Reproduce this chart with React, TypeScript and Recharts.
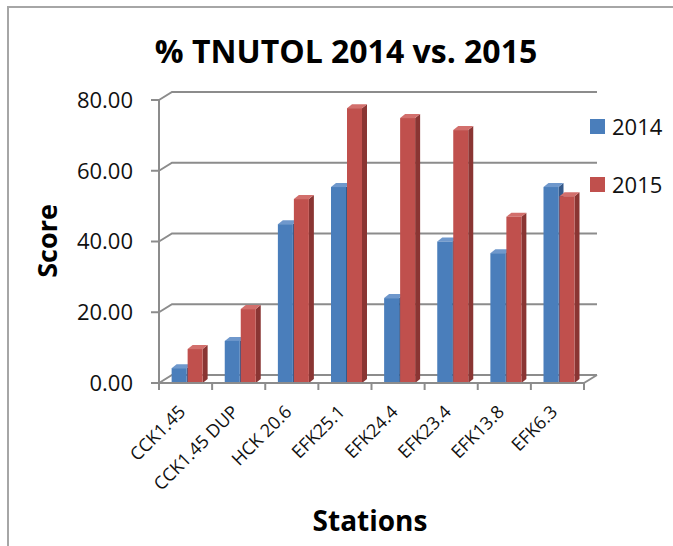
import { BarChart, Bar, XAxis, YAxis, CartesianGrid } from 'recharts';

const stations = ['CCK1.45', 'CCK1.45 DUP', 'HCK 20.6', 'EFK25.1', 'EFK24.4', 'EFK23.4', 'EFK13.8', 'EFK6.3'];
const score2014 = [4.2, 11.9, 44.9, 55.4, 24.0, 40.0, 36.7, 55.4];
const score2015 = [9.6, 20.9, 52.0, 77.7, 74.9, 71.5, 47.0, 52.8];
const yTicks = [0, 20, 40, 60, 80];
const seriesNames = ['2014', '2015'];

const data = stations.map((station, i) => ({ station, y2014: score2014[i], y2015: score2015[i] }));

const W = 673;
const H = 546;
const X_AXIS_H = 30;
const MARGIN = { top: 100, right: 89, bottom: 163 - X_AXIS_H, left: 10 };
const Y_AXIS_W = 149;
const PLOT_LEFT = MARGIN.left + Y_AXIS_W;
const BAND = (W - PLOT_LEFT - MARGIN.right) / stations.length;
const DEPTH_X = 13;
const DEPTH_Y = 8;
const GRID = '#8c8c8c';
const FONT = '"Open Sans", "DejaVu Sans", sans-serif';

const COLORS = {
  y2014: { front: '#4a7ebb', side: '#34598a', top: '#6f98cc' },
  y2015: { front: '#c0504d', side: '#8a3533', top: '#d26f6c' },
};

function make3DBar(key: 'y2014' | 'y2015') {
  const c = COLORS[key];
  return (props: any) => {
    const { x, y, width, height } = props;
    if (height <= 0) return <g />;
    const bx = x + 2;
    const d = 5;
    const dv = 4;
    return (
      <g>
        <polygon points={`${bx + width},${y} ${bx + width + d},${y - dv} ${bx + width + d},${y + height - dv} ${bx + width},${y + height}`} fill={c.side} />
        <polygon points={`${bx},${y} ${bx + d},${y - dv} ${bx + width + d},${y - dv} ${bx + width},${y}`} fill={c.top} />
        <rect x={bx} y={y} width={width} height={height} fill={c.front} />
      </g>
    );
  };
}

function GridLine(props: any) {
  const { x1, x2, y1, y, height } = props;
  const bottom = y + height;
  const isFloor = Math.abs(y1 - bottom) < 1;
  return (
    <g>
      <polyline
        points={`${x1},${y1} ${x1 + DEPTH_X},${y1 - DEPTH_Y} ${x2 + DEPTH_X},${y1 - DEPTH_Y}`}
        fill="none"
        stroke={GRID}
        strokeWidth={2}
      />
      {isFloor && <line x1={x2} y1={y1} x2={x2 + DEPTH_X} y2={y1 - DEPTH_Y} stroke={GRID} strokeWidth={2} />}
    </g>
  );
}

function StationTick(props: any) {
  const { x, y, payload, index } = props;
  const left = x - BAND / 2;
  const right = x + BAND / 2;
  return (
    <g>
      <line x1={left} y1={y} x2={left} y2={y + 7} stroke={GRID} strokeWidth={2} />
      {index === stations.length - 1 && <line x1={right} y1={y} x2={right} y2={y + 7} stroke={GRID} strokeWidth={2} />}
      <text
        transform={`translate(${x + 1},${y + 30}) rotate(-45)`}
        textAnchor="end"
        fontSize={18}
        fontFamily={FONT}
        fill="#111"
      >
        {payload.value}
      </text>
    </g>
  );
}

function LegendBox() {
  const fills = [COLORS.y2014.front, COLORS.y2015.front];
  return (
    <div style={{ position: 'absolute', left: 590, top: 97, fontFamily: FONT }}>
      {seriesNames.map((name, i) => (
        <div key={name} style={{ display: 'flex', alignItems: 'center', height: 58 }}>
          <span style={{ width: 15, height: 15, background: fills[i], display: 'inline-block', marginRight: 7 }} />
          <span style={{ fontSize: 22, color: '#111' }}>{name}</span>
        </div>
      ))}
    </div>
  );
}

export default function App() {
  return (
    <div style={{ position: 'relative', width: W, height: H, overflow: 'hidden', background: '#fff', fontFamily: FONT }}>
      <style>{'html,body{margin:0;overflow:hidden}'}</style>
      <div style={{ position: 'absolute', left: 7, top: 6, right: -20, bottom: -20, borderLeft: '2px solid #a6a6a6', borderTop: '2px solid #a6a6a6' }} />
      <div style={{ position: 'absolute', left: 0, right: 0, top: 50, paddingLeft: 19, transform: 'translateY(-50%)', textAlign: 'center', fontSize: 32, fontWeight: 700, color: '#000' }}>
        % TNUTOL 2014 vs. 2015
      </div>
      <div
        style={{
          position: 'absolute', left: 46, top: 241, transform: 'translate(-50%, -50%) rotate(-90deg)',
          fontSize: 27, fontWeight: 700, color: '#000', whiteSpace: 'nowrap',
        }}
      >
        Score
      </div>
      <div
        style={{
          position: 'absolute', left: 370, top: 520, transform: 'translate(-50%, -50%)',
          fontSize: 28, fontWeight: 700, color: '#000', whiteSpace: 'nowrap',
        }}
      >
        Stations
      </div>
      <div style={{ position: 'absolute', left: 0, top: 0 }}>
        <BarChart width={W} height={H} data={data} margin={MARGIN} barCategoryGap="20%" barGap={1}>
          <CartesianGrid vertical={false} horizontal={(p: any) => <GridLine {...p} />} />
          <XAxis
            dataKey="station"
            height={X_AXIS_H}
            interval={0}
            tickLine={false}
            tickSize={0}
            tickMargin={0}
            axisLine={{ stroke: GRID, strokeWidth: 2 }}
            tick={<StationTick />}
          />
          <YAxis
            width={Y_AXIS_W}
            domain={[0, 80]}
            ticks={yTicks}
            tickFormatter={(v: number) => v.toFixed(2)}
            tick={{ fontSize: 22, fill: '#111', fontFamily: FONT }}
            tickSize={8}
            tickMargin={18}
            tickLine={{ stroke: GRID, strokeWidth: 2 }}
            axisLine={{ stroke: GRID, strokeWidth: 2 }}
          />
          <Bar dataKey="y2014" name={seriesNames[0]} shape={make3DBar('y2014')} isAnimationActive={false} />
          <Bar dataKey="y2015" name={seriesNames[1]} shape={make3DBar('y2015')} isAnimationActive={false} />
        </BarChart>
      </div>
      <LegendBox />
    </div>
  );
}
